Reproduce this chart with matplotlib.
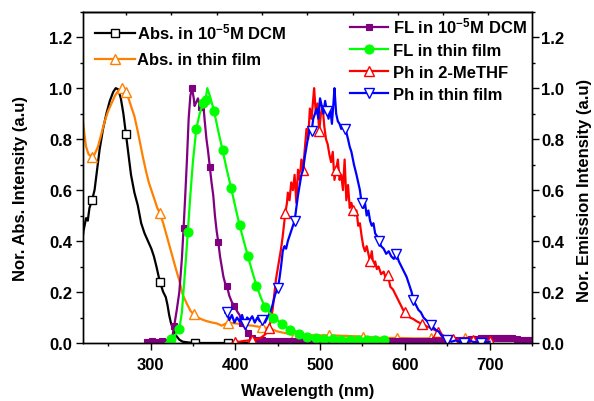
import numpy as np
import matplotlib
matplotlib.use("Agg")
import matplotlib.pyplot as plt
from matplotlib.ticker import MultipleLocator, FixedLocator

plt.rcParams['font.family'] = ['Liberation Sans', 'DejaVu Sans']
plt.rcParams['font.weight'] = 'bold'
plt.rcParams['mathtext.fontset'] = 'custom'
plt.rcParams['mathtext.rm'] = 'Liberation Sans:bold'
plt.rcParams['mathtext.bf'] = 'Liberation Sans:bold'
plt.rcParams['mathtext.default'] = 'bf'

# ---------------- data ----------------
abs_dcm_wl = [218, 221, 224, 226, 228, 231, 234, 237, 240, 244, 248, 252, 256, 259, 262,
              265, 268, 271, 274, 277, 281, 285, 289, 293, 297, 301, 304, 307, 311, 315,
              318, 320, 322, 324, 326, 330, 334, 338, 345, 352, 360, 370, 380, 391, 400,
              410, 420, 429]
abs_dcm = [0.36, 0.44, 0.49, 0.48, 0.53, 0.56, 0.60, 0.68, 0.76, 0.84, 0.90, 0.95, 0.985, 1.0, 0.995,
           0.96, 0.90, 0.82, 0.74, 0.66, 0.59, 0.54, 0.47, 0.43, 0.40, 0.37, 0.34, 0.30, 0.24, 0.20,
           0.18, 0.15, 0.11, 0.08, 0.06, 0.03, 0.013, 0.005, 0.002, 0.0, 0.0, 0.0, 0.0, 0.0, 0.002,
           0.0, 0.002, 0.0]
abs_dcm_marks = [231, 271, 311, 352, 391]

abs_film_wl = [218, 220, 222, 224, 227, 231, 234, 238, 242, 246, 250, 254, 258, 262, 266,
               269, 271, 274, 277, 281, 285, 288, 291, 295, 298, 301, 305, 308, 311, 315,
               320, 325, 330, 334, 338, 342, 347, 351, 356, 361, 366, 373, 378, 384, 391,
               397, 405, 413, 420, 431, 440, 450, 460, 471, 480, 490, 500, 511, 530, 551,
               570, 591, 610, 631, 650, 671, 690, 700]
abs_film = [0.92, 0.88, 0.82, 0.77, 0.74, 0.73, 0.74, 0.77, 0.82, 0.87, 0.91, 0.94, 0.97, 0.99, 1.0,
            0.995, 0.985, 0.96, 0.93, 0.89, 0.83, 0.78, 0.73, 0.67, 0.63, 0.60, 0.56, 0.53, 0.51, 0.47,
            0.41, 0.35, 0.29, 0.245, 0.19, 0.16, 0.127, 0.112, 0.10, 0.092, 0.086, 0.08, 0.077, 0.068, 0.08,
            0.078, 0.075, 0.07, 0.068, 0.062, 0.058, 0.045, 0.038, 0.03, 0.028, 0.03, 0.03, 0.03, 0.028, 0.025,
            0.02, 0.02, 0.018, 0.018, 0.015, 0.02, 0.015, 0.015]
abs_film_marks = [231, 266, 271, 311, 351, 391, 431, 471, 511, 551, 591, 631, 671]

fl_dcm_wl = [296, 302, 308, 314, 320, 324, 326, 328, 331, 334, 337, 339, 341, 343, 345,
             347, 349, 351, 352, 354, 356, 358, 360, 362, 364, 366, 368, 370, 372, 374,
             376, 378, 380, 382, 384, 386, 388, 390, 393, 396, 399, 402, 405, 408, 411,
             415, 420, 426, 432, 438, 444, 450, 456, 462, 468, 474, 480, 486, 492, 498,
             504, 510, 516, 522, 528, 534, 540, 546, 552, 558, 564, 570, 576, 582, 588,
             594, 600, 606, 612, 618, 624, 630, 636, 642, 648, 654, 660, 666, 672, 678,
             684, 690, 696, 702, 708, 714, 720, 726, 732, 738, 744, 750]
fl_dcm = [0.005, 0.006, 0.005, 0.006, 0.005, 0.012, 0.03, 0.068, 0.13, 0.2, 0.33, 0.45, 0.58, 0.72, 0.88,
          0.97, 1.0, 0.96, 0.93, 0.945, 0.96, 0.93, 0.925, 0.945, 0.87, 0.80, 0.75, 0.69, 0.63, 0.58,
          0.50, 0.44, 0.395, 0.34, 0.30, 0.26, 0.235, 0.225, 0.185, 0.16, 0.146, 0.125, 0.11, 0.08, 0.06,
          0.04, 0.02, 0.012, 0.01, 0.008, 0.008, 0.008, 0.007, 0.008, 0.008, 0.007, 0.008, 0.008, 0.007, 0.008,
          0.008, 0.007, 0.008, 0.008, 0.007, 0.008, 0.008, 0.008, 0.007, 0.008, 0.008, 0.008, 0.009, 0.008, 0.008,
          0.009, 0.008, 0.009, 0.009, 0.008, 0.009, 0.009, 0.01, 0.009, 0.01, 0.01, 0.01, 0.012, 0.012, 0.014,
          0.016, 0.018, 0.02, 0.02, 0.02, 0.018, 0.02, 0.018, 0.015, 0.012, 0.012, 0.012]
fl_dcm_marks = [296, 302, 308, 314, 320, 328, 339, 349, 360, 370, 380, 390, 399, 408, 415] + \
               [w for w in fl_dcm_wl if w >= 420]

fl_film_wl = [318, 321, 324, 327, 330, 334, 337, 340, 342, 344, 347, 350, 354, 358, 362,
              365, 367, 370, 375, 380, 385, 390, 395, 400, 405, 410, 415, 420, 425, 430,
              435, 440, 445, 450, 455, 460, 465, 470, 475, 480, 485, 490, 495, 500, 505,
              510, 515, 520, 525, 530, 535, 540, 545, 550, 555, 560, 565, 570, 575]
fl_film = [0.0, 0.008, 0.016, 0.025, 0.035, 0.055, 0.12, 0.25, 0.34, 0.435, 0.58, 0.71, 0.84, 0.9, 0.94,
           0.955, 1.0, 0.97, 0.91, 0.83, 0.757, 0.68, 0.61, 0.535, 0.463, 0.40, 0.34, 0.28, 0.225, 0.18,
           0.14, 0.12, 0.10, 0.088, 0.075, 0.062, 0.052, 0.043, 0.035, 0.028, 0.023, 0.02, 0.018, 0.016, 0.015,
           0.015, 0.014, 0.013, 0.012, 0.012, 0.011, 0.011, 0.01, 0.01, 0.01, 0.01, 0.01, 0.01, 0.01]
fl_film_marks = [324, 334, 344, 354, 362, 365, 375, 385, 395, 405, 415, 425, 435, 445, 455,
                 465, 475, 485, 495, 505, 515, 525, 535, 545, 555, 565, 575]

ph_thf_wl = [397, 400, 405, 410, 415, 420, 425, 430, 434, 437, 440, 442, 444, 446, 448,
             450, 452, 454, 456, 458, 459, 461, 462, 464, 466, 468, 470, 472, 474, 476,
             478, 480, 482, 484, 486, 488, 490, 492, 493, 495, 497, 499, 501, 503, 505,
             507, 509, 511, 513, 515, 517, 519, 521, 523, 525, 527, 529, 531, 533, 535,
             537, 539, 541, 543, 545, 547, 549, 551, 553, 555, 557, 559, 561, 563, 565,
             567, 569, 572, 575, 578, 580, 583, 586, 589, 592, 595, 598, 600, 603, 606,
             610, 614, 620, 626, 633, 639, 645, 650, 657, 665, 672, 680, 690, 700]
ph_thf = [0.0, 0.005, 0.005, 0.008, 0.01, 0.012, 0.015, 0.02, 0.03, 0.04, 0.06, 0.09, 0.13, 0.19, 0.25,
          0.29, 0.33, 0.37, 0.42, 0.48, 0.51, 0.55, 0.59, 0.56, 0.63, 0.60, 0.66, 0.55, 0.68, 0.64,
          0.72, 0.68, 0.76, 0.84, 0.80, 0.92, 0.88, 0.96, 1.0, 0.90, 0.94, 0.83, 0.90, 0.93, 0.85,
          0.80, 0.78, 0.74, 0.71, 0.75, 0.64, 0.68, 0.72, 0.64, 0.66, 0.60, 0.72, 0.56, 0.62, 0.53,
          0.55, 0.52, 0.50, 0.52, 0.46, 0.47, 0.42, 0.38, 0.36, 0.38, 0.35, 0.32, 0.36, 0.30, 0.32,
          0.29, 0.30, 0.27, 0.28, 0.25, 0.265, 0.22, 0.21, 0.19, 0.17, 0.15, 0.13, 0.12, 0.11, 0.10,
          0.094, 0.085, 0.075, 0.065, 0.055, 0.045, 0.03, 0.022, 0.015, 0.01, 0.012, 0.01, 0.008, 0.008]
ph_thf_marks = [400, 420, 440, 459, 480, 499, 519, 539, 559, 580, 600, 620, 639, 657, 680, 700]

ph_film_wl = [388, 390, 393, 396, 399, 402, 405, 408, 411, 414, 417, 420, 423, 426, 429,
              432, 435, 438, 441, 444, 447, 450, 452, 454, 456, 458, 460, 462, 464, 466,
              468, 470, 472, 474, 476, 478, 480, 482, 484, 486, 488, 490, 492, 494, 496,
              498, 500, 502, 504, 506, 508, 510, 512, 514, 516, 517, 519, 521, 523, 525,
              528, 530, 533, 535, 537, 540, 543, 545, 547, 549, 551, 553, 555, 557, 559,
              561, 563, 565, 567, 570, 572, 575, 578, 581, 584, 587, 590, 593, 596, 599,
              602, 605, 608, 610, 613, 616, 619, 622, 625, 628, 631, 634, 637, 640, 643,
              646, 650, 655, 660, 665, 670, 675, 680, 690, 700]
ph_film = [0.12, 0.12, 0.09, 0.11, 0.08, 0.10, 0.085, 0.11, 0.075, 0.10, 0.09, 0.105, 0.08, 0.10, 0.085,
           0.09, 0.08, 0.10, 0.12, 0.15, 0.19, 0.215, 0.25, 0.30, 0.36, 0.38, 0.37, 0.40, 0.42, 0.44,
           0.46, 0.48, 0.53, 0.58, 0.62, 0.66, 0.68, 0.73, 0.77, 0.81, 0.84, 0.83, 0.88, 0.90, 0.92,
           0.88, 0.96, 0.93, 0.90, 0.95, 0.91, 0.88, 0.92, 0.86, 0.95, 1.0, 0.90, 0.87, 0.86, 0.84,
           0.85, 0.84, 0.80, 0.77, 0.75, 0.70, 0.66, 0.63, 0.60, 0.55, 0.53, 0.55, 0.50, 0.52, 0.48,
           0.46, 0.47, 0.43, 0.42, 0.40, 0.38, 0.37, 0.35, 0.36, 0.34, 0.33, 0.35, 0.32, 0.30, 0.28,
           0.26, 0.23, 0.20, 0.17, 0.15, 0.13, 0.12, 0.10, 0.09, 0.08, 0.07, 0.06, 0.05, 0.045, 0.03,
           0.02, 0.01, 0.005, 0.01, 0.005, 0.0, 0.01, 0.005, 0.0, 0.005]
ph_film_marks = [390, 411, 432, 450, 470, 490, 508, 530, 549, 570, 590, 610, 631, 650, 670, 690]

labels_abs = [r'Abs. in 10$^{-5}$M DCM', 'Abs. in thin film']
labels_em = [r'FL in 10$^{-5}$M DCM', 'FL in thin film', 'Ph in 2-MeTHF', 'Ph in thin film']


def mark_idx(wl, marks):
    wl = np.asarray(wl)
    return sorted(set(int(np.argmin(np.abs(wl - m))) for m in marks))


# ---------------- figure ----------------
fig = plt.figure(figsize=(5.94, 4.02), dpi=100)
ax = fig.add_axes([0.1392, 0.1443, 0.7564, 0.8241])
ax2 = ax.twinx()

lw = 1.6
h_abs_dcm, = ax.plot(abs_dcm_wl, abs_dcm, color='black', lw=lw, marker='s', ms=5.5,
                     mfc='white', mec='black', mew=1.0,
                     markevery=mark_idx(abs_dcm_wl, abs_dcm_marks))
h_abs_film, = ax.plot(abs_film_wl, abs_film, color='#FF8000', lw=lw, marker='^', ms=7,
                      mfc='white', mec='#FF8000', mew=1.0,
                      markevery=mark_idx(abs_film_wl, abs_film_marks))

h_fl_dcm, = ax2.plot(fl_dcm_wl, fl_dcm, color='#800080', lw=lw, marker='s', ms=4.5,
                     mfc='#800080', mec='#800080', mew=0.8,
                     markevery=mark_idx(fl_dcm_wl, fl_dcm_marks))
h_ph_thf, = ax2.plot(ph_thf_wl, ph_thf, color='#FF0000', lw=lw, marker='^', ms=7,
                     mfc='white', mec='#FF0000', mew=1.0,
                     markevery=mark_idx(ph_thf_wl, ph_thf_marks))
h_ph_film, = ax2.plot(ph_film_wl, ph_film, color='#0000FF', lw=lw, marker='v', ms=7,
                      mfc='white', mec='#0000FF', mew=1.0,
                      markevery=mark_idx(ph_film_wl, ph_film_marks))
h_fl_film, = ax2.plot(fl_film_wl, fl_film, color='#00FF00', lw=lw, marker='o', ms=6.5,
                      mfc='#00FF00', mec='#00FF00', mew=0.8,
                      markevery=mark_idx(fl_film_wl, fl_film_marks))

for a in (ax, ax2):
    a.set_xlim(220, 750)
    a.set_ylim(0, 1.3)
    a.yaxis.set_major_locator(MultipleLocator(0.2))
    a.yaxis.set_minor_locator(MultipleLocator(0.1))
    a.yaxis.set_major_formatter(matplotlib.ticker.FormatStrFormatter('%.1f'))
    for s in a.spines.values():
        s.set_linewidth(1.0)

ax.xaxis.set_major_locator(MultipleLocator(100))
ax.xaxis.set_minor_locator(MultipleLocator(50))
ax.tick_params(axis='x', which='both', direction='out', top=False, labelsize=12, pad=5)
ax.tick_params(axis='x', which='major', length=5, width=1.0)
ax.tick_params(axis='x', which='minor', length=2.5, width=1.0)
ax.tick_params(axis='y', which='both', direction='out', right=False, labelsize=12, pad=2.5)
ax.tick_params(axis='y', which='major', length=5, width=1.0)
ax.tick_params(axis='y', which='minor', length=2.5, width=1.0)
ax2.tick_params(axis='y', which='both', direction='out', left=False, labelsize=12, pad=1.5)
ax2.tick_params(axis='y', which='major', length=5, width=1.0)
ax2.tick_params(axis='y', which='minor', length=2.5, width=1.0)

sec = ax.secondary_xaxis('top')
sec.xaxis.set_major_locator(FixedLocator([271.3 + 53.4 * k for k in range(9)]))
sec.tick_params(axis='x', direction='in', length=2.5, width=1.0, labeltop=False)
sec.spines['top'].set_linewidth(1.0)

ax.set_xlabel('Wavelength (nm)', fontsize=12, fontweight='bold')
ax.xaxis.set_label_coords(0.501, -0.121)
ax.set_ylabel('Nor. Abs. Intensity (a.u)', fontsize=12, fontweight='bold')
ax.yaxis.set_label_coords(-0.122, 0.468)
ax2.set_ylabel('Nor. Emission Intensity (a.u)', fontsize=12, fontweight='bold', rotation=90)
ax2.yaxis.set_label_coords(1.100, 0.465)

leg1 = ax2.legend([h_abs_dcm, h_abs_film], labels_abs, loc='upper left',
                  bbox_to_anchor=(0.027, 0.970), frameon=False, fontsize=12,
                  handlelength=2.4, handletextpad=0.15, labelspacing=0.65,
                  borderpad=0, borderaxespad=0, numpoints=1)
ax2.add_artist(leg1)
leg2 = ax2.legend([h_fl_dcm, h_fl_film, h_ph_thf, h_ph_film], labels_em, loc='upper left',
                  bbox_to_anchor=(0.595, 0.988), frameon=False, fontsize=12,
                  handlelength=2.3, handletextpad=0.25, labelspacing=0.42,
                  borderpad=0, borderaxespad=0, numpoints=1)

fig.savefig('out.png', dpi=100)
